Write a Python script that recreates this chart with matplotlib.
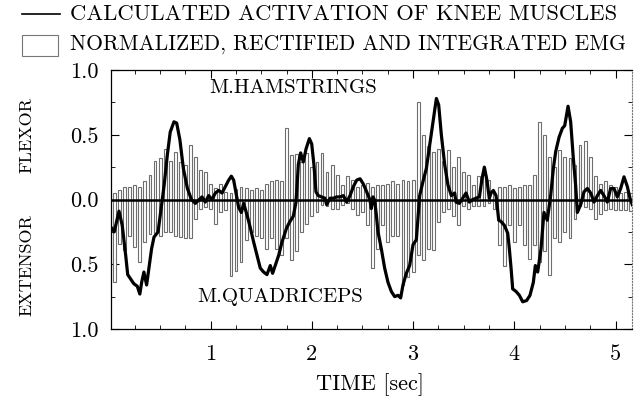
import numpy as np
import matplotlib
matplotlib.use("Agg")
import matplotlib.pyplot as plt
from matplotlib.lines import Line2D
from matplotlib.patches import Rectangle

plt.rcParams['font.family'] = ['cmr10', 'DejaVu Serif']
plt.rcParams['axes.unicode_minus'] = False

# EMG bars, one every 0.05 s
emg_t = np.round(np.arange(1, 104) * 0.05, 2)
emg_flex = [0.05, 0.07, 0.10, 0.10, 0.11, 0.10, 0.14, 0.19, 0.30, 0.32,
            0.39, 0.30, 0.37, 0.29, 0.27, 0.42, 0.33, 0.23, 0.21, 0.12,
            0.09, 0.12, 0.06, 0.05, 0.08, 0.10, 0.09, 0.07, 0.09, 0.07,
            0.12, 0.14, 0.15, 0.14, 0.55, 0.34, 0.35, 0.29, 0.36, 0.25,
            0.29, 0.36, 0.21, 0.27, 0.19, 0.11, 0.18, 0.15, 0.10, 0.11,
            0.13, 0.10, 0.11, 0.11, 0.12, 0.14, 0.12, 0.15, 0.14, 0.15,
            0.75, 0.50, 0.41, 0.37, 0.39, 0.30, 0.38, 0.25, 0.33, 0.21,
            0.19, 0.11, 0.18, 0.25, 0.15, 0.06, 0.10, 0.10, 0.11, 0.09,
            0.10, 0.11, 0.11, 0.19, 0.60, 0.50, 0.33, 0.25, 0.38, 0.33,
            0.32, 0.27, 0.42, 0.45, 0.33, 0.18, 0.12, 0.14, 0.11, 0.10,
            0.05, 0.06, 0.05]
emg_ext = [-0.64, -0.34, -0.39, -0.28, -0.37, -0.48, -0.33, -0.27, -0.26, -0.28,
           -0.25, -0.25, -0.28, -0.29, -0.30, -0.30, -0.15, -0.07, -0.06, -0.07,
           -0.19, -0.10, -0.08, -0.59, -0.55, -0.48, -0.31, -0.25, -0.28, -0.30,
           -0.38, -0.30, -0.38, -0.43, -0.30, -0.47, -0.40, -0.25, -0.19, -0.13,
           -0.10, -0.04, -0.05, -0.07, -0.07, -0.04, -0.03, -0.07, -0.12, -0.10,
           -0.20, -0.53, -0.38, -0.20, -0.33, -0.28, -0.28, -0.66, -0.60, -0.56,
           -0.43, -0.47, -0.38, -0.39, -0.17, -0.10, -0.07, -0.13, -0.20, -0.05,
           -0.07, -0.05, -0.05, -0.05, -0.03, -0.07, -0.35, -0.51, -0.20, -0.33,
           -0.20, -0.35, -0.46, -0.35, -0.48, -0.40, -0.58, -0.30, -0.33, -0.25,
           -0.30, -0.15, -0.05, -0.06, -0.07, -0.15, -0.11, -0.08, -0.07, -0.08,
           -0.08, -0.08, -0.09]

# calculated activation (flexor positive, extensor negative)
act_t = [0.02, 0.047, 0.094, 0.126, 0.16, 0.18, 0.24, 0.275, 0.30, 0.318,
         0.34, 0.367, 0.39, 0.416, 0.44, 0.48, 0.51, 0.54, 0.571, 0.60,
         0.637, 0.664, 0.696, 0.73, 0.77, 0.81, 0.848, 0.881, 0.914, 0.947,
         0.98, 1.013, 1.046, 1.079, 1.112, 1.145, 1.178, 1.204, 1.227, 1.26,
         1.276, 1.303, 1.326, 1.359, 1.392, 1.425, 1.458, 1.49, 1.523, 1.556,
         1.589, 1.612, 1.638, 1.672, 1.704, 1.75, 1.783, 1.816, 1.843, 1.866,
         1.889, 1.915, 1.942, 1.975, 1.998, 2.02, 2.04, 2.063, 2.096, 2.129,
         2.146, 2.179, 2.212, 2.245, 2.278, 2.311, 2.344, 2.377, 2.41, 2.443,
         2.476, 2.508, 2.541, 2.574, 2.587, 2.604, 2.62, 2.637, 2.653, 2.686,
         2.719, 2.752, 2.785, 2.818, 2.851, 2.877, 2.9, 2.933, 2.966, 2.999,
         3.032, 3.065, 3.098, 3.131, 3.164, 3.197, 3.23, 3.253, 3.279, 3.312,
         3.345, 3.378, 3.411, 3.424, 3.457, 3.49, 3.523, 3.556, 3.589, 3.622,
         3.655, 3.681, 3.704, 3.727, 3.753, 3.77, 3.793, 3.82, 3.846, 3.869,
         3.902, 3.935, 3.951, 3.968, 3.984, 4.017, 4.05, 4.083, 4.122, 4.155,
         4.188, 4.208, 4.231, 4.264, 4.293, 4.326, 4.359, 4.386, 4.409, 4.442,
         4.475, 4.498, 4.531, 4.557, 4.583, 4.606, 4.623, 4.656, 4.689, 4.722,
         4.755, 4.788, 4.821, 4.853, 4.886, 4.919, 4.952, 4.985, 5.018, 5.051,
         5.084, 5.117, 5.143, 5.166]
act_v = [-0.22, -0.25, -0.09, -0.20, -0.43, -0.58, -0.65, -0.67, -0.73, -0.64,
         -0.56, -0.66, -0.53, -0.38, -0.29, -0.25, -0.07, 0.11, 0.34, 0.52,
         0.60, 0.59, 0.46, 0.24, 0.085, 0.0, -0.03, -0.005, 0.02, -0.02,
         0.03, 0.0, 0.05, 0.07, 0.05, 0.10, 0.15, 0.18, 0.15, 0.01,
         -0.06, -0.10, -0.03, -0.12, -0.22, -0.33, -0.43, -0.53, -0.56, -0.58,
         -0.51, -0.57, -0.51, -0.43, -0.33, -0.22, -0.17, -0.13, -0.02, 0.27,
         0.36, 0.29, 0.39, 0.47, 0.43, 0.27, 0.06, 0.03, 0.02, 0.01,
         -0.04, 0.01, 0.01, 0.02, 0.02, 0.03, -0.02, 0.03, 0.10, 0.15,
         0.16, 0.12, 0.06, -0.005, -0.07, 0.02, -0.005, -0.12, -0.25, -0.38,
         -0.53, -0.64, -0.71, -0.75, -0.74, -0.76, -0.66, -0.57, -0.51, -0.35,
         -0.31, 0.03, 0.14, 0.24, 0.42, 0.60, 0.78, 0.73, 0.50, 0.27,
         0.11, 0.03, 0.05, -0.02, -0.03, 0.01, 0.05, -0.02, 0.0, 0.01,
         0.02, 0.16, 0.25, 0.16, 0.01, 0.05, 0.07, 0.03, -0.16, -0.17,
         -0.20, -0.26, -0.38, -0.53, -0.69, -0.71, -0.74, -0.79, -0.78, -0.74,
         -0.64, -0.51, -0.56, -0.38, -0.10, -0.16, 0.03, 0.24, 0.37, 0.48,
         0.55, 0.57, 0.72, 0.60, 0.32, 0.11, -0.10, -0.04, 0.06, 0.085,
         0.05, -0.02, 0.03, 0.07, 0.03, -0.02, 0.085, 0.085, 0.02, 0.085,
         0.175, 0.10, 0.01, -0.04]

y_ticks = [1.0, 0.5, 0.0, -0.5, -1.0]
y_ticklabels = ["1.0", "0.5", "0.0", "0.5", "1.0"]
x_ticks = [1, 2, 3, 4, 5]

W, H = 642, 413
fig = plt.figure(figsize=(6.42, 4.13), dpi=100)
ax = fig.add_axes([111 / W, 1 - 329 / H, 521 / W, 259 / H])

bar_kw = dict(width=0.028, facecolor='white', edgecolor='#6e6e6e', linewidth=0.8, zorder=2)
ax.bar(emg_t, emg_flex, **bar_kw)
ax.bar(emg_t, emg_ext, **bar_kw)

ax.axhline(0, color='black', lw=1.8, zorder=3)
ax.plot(act_t, act_v, color='black', lw=2.3, zorder=4)

ax.set_xlim(0.015, 5.163)
ax.set_ylim(-1.0, 1.0)
ax.set_xticks(x_ticks)
ax.set_xticklabels([str(v) for v in x_ticks])
ax.set_xticks(np.arange(0.25, 5.2, 0.25), minor=True)
ax.set_yticks(y_ticks)
ax.set_yticklabels(y_ticklabels)
ax.set_yticks(np.arange(-1.0, 1.01, 0.25), minor=True)
ax.tick_params(which='both', direction='in', top=True, right=True, labelsize=16)
ax.tick_params(which='major', length=6, width=0.8)
ax.tick_params(which='minor', length=3, width=0.6)
ax.tick_params(axis='x', pad=11)
ax.tick_params(axis='y', pad=9)
ax.spines['right'].set_linestyle(':')
ax.spines['right'].set_color('#777777')
for s in ['left', 'top', 'bottom']:
    ax.spines[s].set_linewidth(0.9)

ax.text(1.81, 0.857, "M.HAMSTRINGS", ha='center', va='center', fontsize=15)
ax.text(1.69, -0.75, "M.QUADRICEPS", ha='center', va='center', fontsize=15)

fig.text(27 / W, 1 - 135 / H, "FLEXOR", rotation=90, ha='center', va='center', fontsize=13)
fig.text(27 / W, 1 - 265 / H, "EXTENSOR", rotation=90, ha='center', va='center', fontsize=13)
fig.text(370 / W, 1 - 385 / H, "TIME [sec]", ha='center', va='center', fontsize=16)

# legend drawn by hand at the top
fig.add_artist(Line2D([22 / W, 60 / W], [1 - 14 / H, 1 - 14 / H], color='black', lw=1.2,
                      transform=fig.transFigure))
fig.add_artist(Rectangle((22 / W, 1 - 56 / H), 36 / W, 21 / H, facecolor='white',
                         edgecolor='#777777', lw=0.8, transform=fig.transFigure))
fig.text(70 / W, 1 - 14 / H, "CALCULATED ACTIVATION OF KNEE MUSCLES", ha='left', va='center', fontsize=16.3)
fig.text(70 / W, 1 - 44 / H, "NORMALIZED, RECTIFIED AND INTEGRATED EMG", ha='left', va='center', fontsize=15.5)

fig.savefig("out.png", dpi=100)
